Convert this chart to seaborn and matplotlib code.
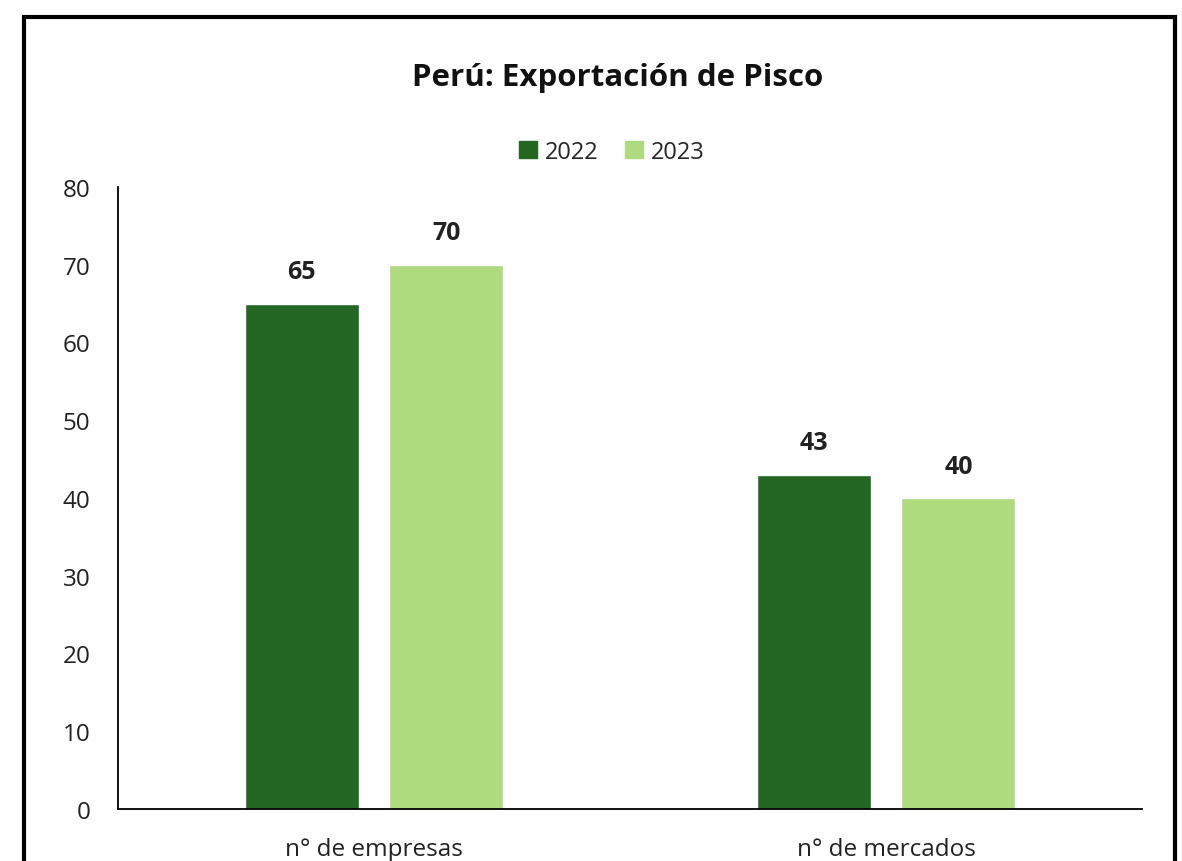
import matplotlib
matplotlib.use("Agg")
import matplotlib.pyplot as plt
import seaborn as sns
import pandas as pd
from matplotlib.patches import Rectangle

categories = ["n° de empresas", "n° de mercados"]
years = ["2022", "2023"]
values_2022 = [65, 43]
values_2023 = [70, 40]
y_ticks = [0, 10, 20, 30, 40, 50, 60, 70, 80]

colors = ["#236723", "#AEDB7E"]

df = pd.DataFrame({
    "categoria": categories * 2,
    "año": [years[0]] * 2 + [years[1]] * 2,
    "valor": values_2022 + values_2023,
})

sns.set_theme(style="white")
plt.rcParams["font.family"] = ["Open Sans", "DejaVu Sans"]

W, H = 1182, 862
fig = plt.figure(figsize=(W / 100, H / 100), dpi=100)
ax = fig.add_axes([118 / W, 1 - 810 / H, (1142 - 118) / W, (810 - 188) / H])

sns.barplot(data=df, x="categoria", y="valor", hue="año", palette=colors,
            width=0.566, gap=0.213, ax=ax, legend=False, saturation=1)

ax.set_ylim(0, 80)
ax.set_xlim(-0.5, 1.5)
ax.set_yticks(y_ticks)
ax.set_xlabel("")
ax.set_ylabel("")
ax.tick_params(axis="y", length=0, pad=20, labelsize=17.5, labelcolor="#222222")
ax.tick_params(axis="x", length=0, pad=20, labelsize=17.5, labelcolor="#222222")
for s in ["top", "right"]:
    ax.spines[s].set_visible(False)
for s in ["left", "bottom"]:
    ax.spines[s].set_visible(True)
    ax.spines[s].set_color("black")
    ax.spines[s].set_linewidth(1.3)

for cont in ax.containers:
    ax.bar_label(cont, labels=[f"{int(v)}" for v in cont.datavalues],
                 padding=14, fontsize=18, fontweight="bold", color="#222222")

fig.text(618 / W, 1 - 78 / H, "Perú: Exportación de Pisco", ha="center", va="center",
         fontsize=22.5, fontweight="bold", color="#111111")

# legend
handles = [Rectangle((0, 0), 1, 1, color=c) for c in colors]
fig.legend(handles, years, loc="center", bbox_to_anchor=(612 / W, 1 - 153 / H),
           ncol=2, frameon=False, fontsize=17, handlelength=0.75, handleheight=0.75,
           handletextpad=0.35, columnspacing=1.1)

# outer frame
fig.patches.append(Rectangle((24 / W, -0.05), (1175 - 24) / W, 1.05 - 18 / H,
                             transform=fig.transFigure, fill=False,
                             edgecolor="black", linewidth=3))

fig.savefig("out.png", dpi=100, facecolor="white")
